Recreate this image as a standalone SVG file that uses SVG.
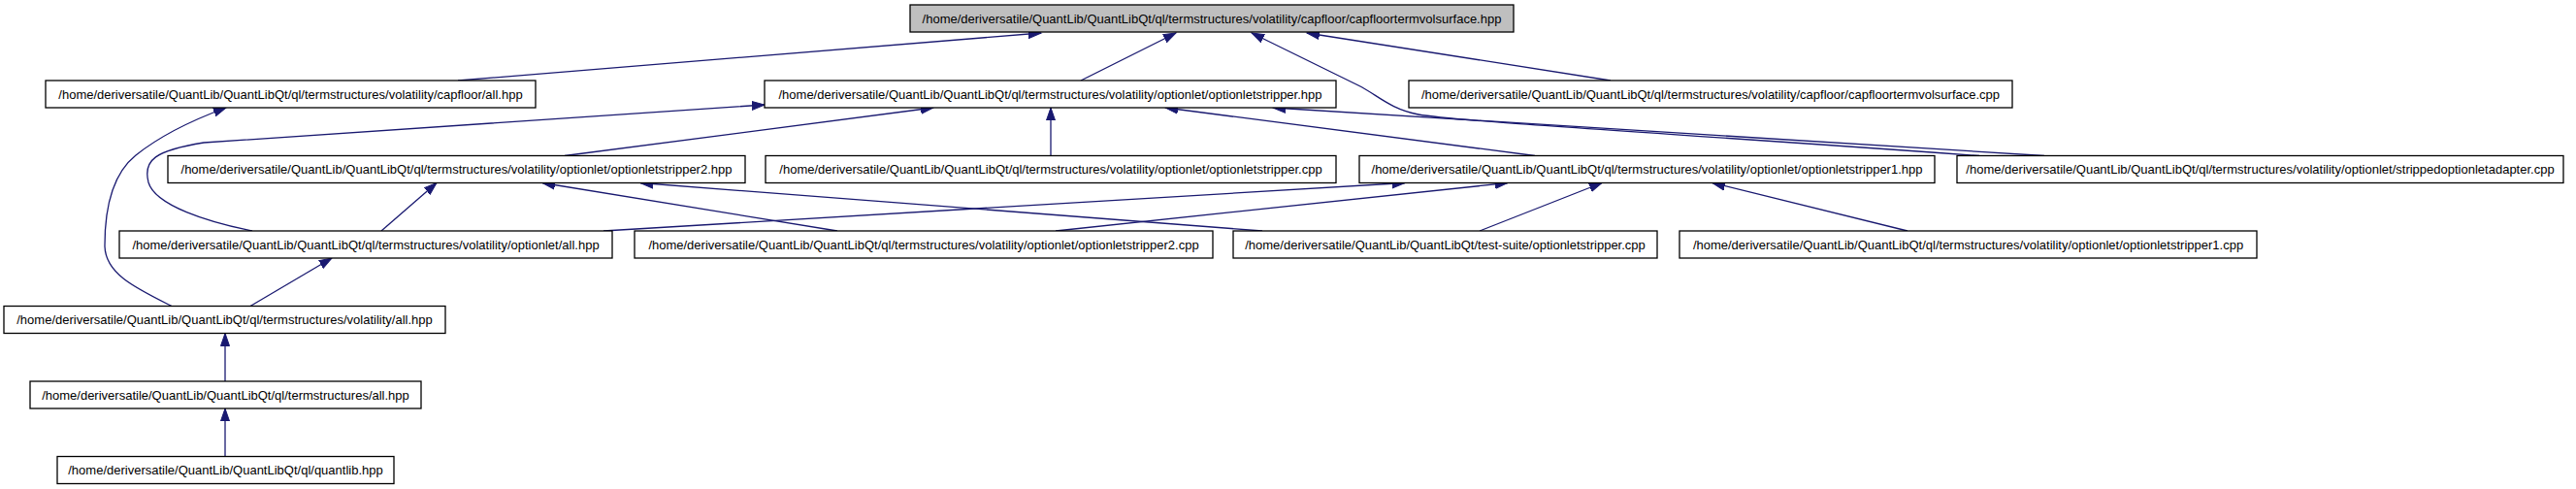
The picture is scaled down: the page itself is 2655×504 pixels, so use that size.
<svg xmlns="http://www.w3.org/2000/svg" width="2655" height="504" viewBox="0 0 2655 504">
<defs>
<style>
.n rect{fill:#ffffff;stroke:#000000;stroke-width:1.3}
#root rect{fill:#bfbfbf}
.n text{font-family:"Liberation Sans",Arial,sans-serif;font-size:13px;fill:#000000;text-anchor:middle}
#edges path{fill:none;stroke:#191970;stroke-width:1.3;marker-end:url(#ah)}
</style>
<marker id="ah" markerUnits="userSpaceOnUse" markerWidth="15" markerHeight="11" refX="13" refY="5.5" orient="auto">
<path d="M0,1 L13,5.5 L0,10 z" fill="#191970" stroke="#191970" stroke-width="1"/>
</marker>
</defs>
<rect x="0" y="0" width="2655" height="504" fill="#ffffff"/>
<g id="edges">
<path d="M472,83 L1073,34"/>
<path d="M1114,83 L1212,34"/>
<path d="M2040,160.5 C1700,136 1500,125 1462,118 C1432,112 1420,98 1400,88 L1290,34"/>
<path d="M1660,83 L1347,34"/>
<path d="M260,238 C215,229 160,212 153,188 C147,165 160,155 210,147 L788,108"/>
<path d="M582,160.5 L962,111"/>
<path d="M1083,160.5 L1083,111"/>
<path d="M1582,160.5 L1201,111"/>
<path d="M2107,160.5 L1312,111"/>
<path d="M177,315.5 C140,297 108,282 108,253 C108,215 115,180 140,160 C165,140 195,125 233,111"/>
<path d="M393,238 L450,188.5"/>
<path d="M863,238 L559,188.5"/>
<path d="M1301,238 L660,188.5"/>
<path d="M622,238 L1448,188.5"/>
<path d="M1088,238 L1554,188.5"/>
<path d="M1525,238 L1651,188.5"/>
<path d="M1966,238 L1765,188.5"/>
<path d="M258,315.5 L342,266"/>
<path d="M232,393 L232,343.5"/>
<path d="M232,470.5 L232,421"/>
</g>
<g id="root" class="n"><rect x="938" y="5" width="622" height="28"/><text x="1249" y="23.5">/home/deriversatile/QuantLib/QuantLibQt/ql/termstructures/volatility/capfloor/capfloortermvolsurface.hpp</text></g>
<g id="capfloor_all" class="n"><rect x="47" y="83" width="505" height="28"/><text x="299.5" y="101.5">/home/deriversatile/QuantLib/QuantLibQt/ql/termstructures/volatility/capfloor/all.hpp</text></g>
<g id="optionletstripper_hpp" class="n"><rect x="788" y="83" width="589" height="28"/><text x="1082.5" y="101.5">/home/deriversatile/QuantLib/QuantLibQt/ql/termstructures/volatility/optionlet/optionletstripper.hpp</text></g>
<g id="capfloortermvolsurface_cpp" class="n"><rect x="1452" y="83" width="622" height="28"/><text x="1763" y="101.5">/home/deriversatile/QuantLib/QuantLibQt/ql/termstructures/volatility/capfloor/capfloortermvolsurface.cpp</text></g>
<g id="optionletstripper2_hpp" class="n"><rect x="173" y="160.5" width="595" height="28"/><text x="470.5" y="179">/home/deriversatile/QuantLib/QuantLibQt/ql/termstructures/volatility/optionlet/optionletstripper2.hpp</text></g>
<g id="optionletstripper_cpp" class="n"><rect x="789" y="160.5" width="588" height="28"/><text x="1083" y="179">/home/deriversatile/QuantLib/QuantLibQt/ql/termstructures/volatility/optionlet/optionletstripper.cpp</text></g>
<g id="optionletstripper1_hpp" class="n"><rect x="1401" y="160.5" width="593" height="28"/><text x="1697.5" y="179">/home/deriversatile/QuantLib/QuantLibQt/ql/termstructures/volatility/optionlet/optionletstripper1.hpp</text></g>
<g id="strippedoptionletadapter_cpp" class="n"><rect x="2017" y="160.5" width="625" height="28"/><text x="2329.5" y="179">/home/deriversatile/QuantLib/QuantLibQt/ql/termstructures/volatility/optionlet/strippedoptionletadapter.cpp</text></g>
<g id="optionlet_all" class="n"><rect x="123" y="238" width="508" height="28"/><text x="377" y="256.5">/home/deriversatile/QuantLib/QuantLibQt/ql/termstructures/volatility/optionlet/all.hpp</text></g>
<g id="optionletstripper2_cpp" class="n"><rect x="654" y="238" width="596" height="28"/><text x="952" y="256.5">/home/deriversatile/QuantLib/QuantLibQt/ql/termstructures/volatility/optionlet/optionletstripper2.cpp</text></g>
<g id="testsuite_optionletstripper_cpp" class="n"><rect x="1271" y="238" width="437" height="28"/><text x="1489.5" y="256.5">/home/deriversatile/QuantLib/QuantLibQt/test-suite/optionletstripper.cpp</text></g>
<g id="optionletstripper1_cpp" class="n"><rect x="1731" y="238" width="595" height="28"/><text x="2028.5" y="256.5">/home/deriversatile/QuantLib/QuantLibQt/ql/termstructures/volatility/optionlet/optionletstripper1.cpp</text></g>
<g id="volatility_all" class="n"><rect x="4" y="315.5" width="455" height="28"/><text x="231.5" y="334">/home/deriversatile/QuantLib/QuantLibQt/ql/termstructures/volatility/all.hpp</text></g>
<g id="termstructures_all" class="n"><rect x="31" y="393" width="403" height="28"/><text x="232.5" y="411.5">/home/deriversatile/QuantLib/QuantLibQt/ql/termstructures/all.hpp</text></g>
<g id="quantlib_hpp" class="n"><rect x="59" y="470.5" width="347" height="28"/><text x="232.5" y="489">/home/deriversatile/QuantLib/QuantLibQt/ql/quantlib.hpp</text></g>
</svg>
